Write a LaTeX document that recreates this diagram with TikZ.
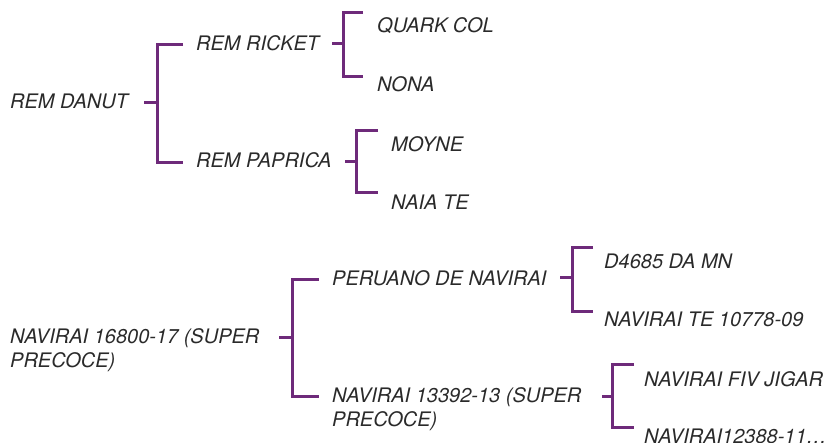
\documentclass[tikz,border=0pt]{standalone}
\usepackage{fontspec}
\setmainfont{TeX Gyre Heros}
\usetikzlibrary{positioning}
\definecolor{purplelink}{HTML}{6E2A7A}
\definecolor{inkgray}{HTML}{2A2A2A}
\tikzset{
     breed/.style = {anchor=base west, inner sep=0pt, text=inkgray,
                     font=\fontsize{20}{24}\selectfont\itshape, align=left},
      link/.style = {draw=purplelink, line width=3pt},
        }
\begin{document}
\begin{tikzpicture}[x=1pt,y=-1pt]
\useasboundingbox (0,0) rectangle (831,443);
% first pedigree
\path[nodes=breed]
  (10,109)  node(danut){REM DANUT}
  (196,51)  node(ricket){REM RICKET}
  (196,168) node(paprica){REM PAPRICA}
  (377,33)  node(quark){QUARK COL}
  (377,92)  node(nona){NONA}
  (391,152) node(moyne){MOYNE}
  (391,210) node(naia){NAIA TE};
% second pedigree (two-line names sit on their last line)
\path[nodes=breed]
  (10,368)  node(nav16800){NAVIRAI 16800-17 (SUPER\\PRECOCE)}
  (332,286) node(peruano){PERUANO DE NAVIRAI}
  (332,427) node(nav13392){NAVIRAI 13392-13 (SUPER\\PRECOCE)}
  (604,269) node(d4685){D4685 DA MN}
  (604,327) node(navte){NAVIRAI TE 10778-09}
  (644,387) node(fivjigar){NAVIRAI FIV JIGAR}
  (644,444) node(nav12388){NAVIRAI12388-11\ldots};
% brackets: tick start / spine / arm end / tick y / upper arm / lower arm
\foreach \p/\xt/\xs/\xe/\ym/\yu/\yd in {
    danut/144/157/183/103/45/163,
    ricket/332/343/363/44/13/77,
    paprica/345/356/378/162/131/193,
    nav16800/279/292/319/338/280/397,
    peruano/560/572/593/278/248/312,
    nav13392/602/612/634/397/365/428}
{
  \coordinate (\p-t) at (\xt,\ym);
  \coordinate (\p-s) at (\xs,\ym);
  \coordinate (\p-u) at (\xe,\yu);
  \coordinate (\p-d) at (\xe,\yd);
  \draw[link] (\p-t) -- (\p-s);
  \draw[link] (\p-u) -| (\p-s) |- (\p-d);
}
\end{tikzpicture}
\end{document}
